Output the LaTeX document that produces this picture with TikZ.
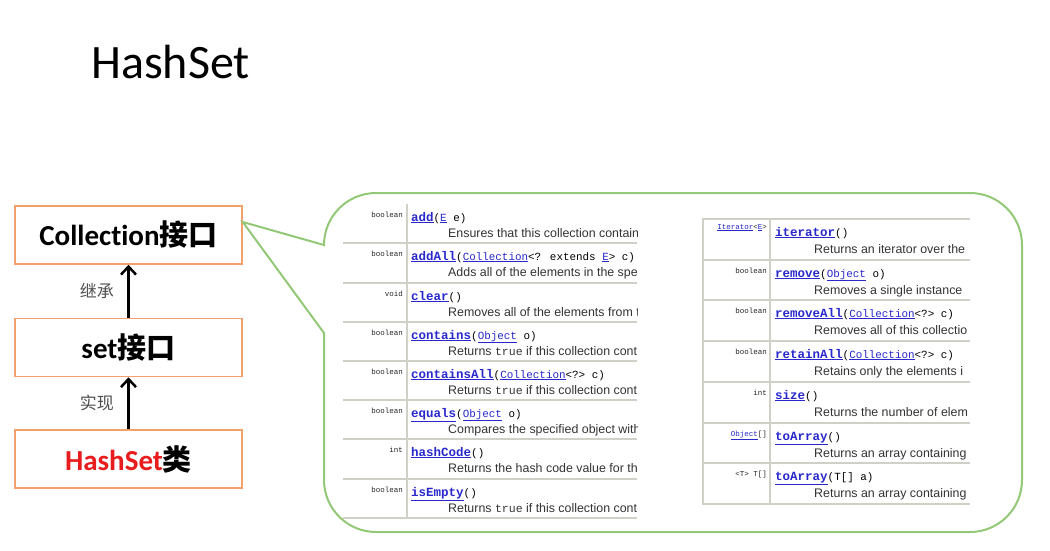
\documentclass[tikz,border=0pt]{standalone}
\usepackage{fontspec}
\setmainfont{Carlito}[Ligatures=NoCommon]
\newfontfamily\cjk{Noto Sans CJK SC}
\newfontfamily\apimono{Liberation Mono}
\newfontfamily\apisans{Liberation Sans}
\usepackage{tikz}
\usetikzlibrary{arrows.meta,positioning,calc}

\definecolor{boxorange}{RGB}{242,160,108}
\definecolor{callgreen}{RGB}{146,200,118}
\definecolor{linkblue}{RGB}{40,40,205}
\definecolor{gridgray}{RGB}{208,208,198}
\definecolor{hsred}{RGB}{232,28,28}
\definecolor{labelgray}{RGB}{80,80,80}

\newcommand\apiname[1]{{\bfseries\fontsize{12.5}{14}\selectfont\color{linkblue}\underline{#1}}}
\newcommand\apilink[1]{{\color{linkblue}\underline{#1}}}
\newcommand\apitrue{{\apimono\fontsize{11.5}{14}\selectfont true}}

\begin{document}
\begin{tikzpicture}[
  x=1pt, y=-1pt,
  umlbox/.style={rectangle, draw=boxorange, line width=1.5pt, fill=white,
    minimum width=227pt, minimum height=58pt,
    font=\bfseries\fontsize{29}{34}\selectfont},
  arr/.style={-{Straight Barb[length=8pt,width=15pt]}, line width=2.5pt},
  rel/.style={font=\cjk\fontsize{17}{20}\selectfont, text=labelgray},
  callout/.style={draw=callgreen, line width=2pt, fill=white},
  grid/.style={draw=gridgray, line width=2pt},
  ctype/.style={inner sep=0pt, anchor=base east,
    font=\apimono\fontsize{7.5}{9}\selectfont, text=black!85},
  cmeth/.style={inner sep=0pt, anchor=base west,
    font=\apimono\fontsize{10.9}{14}\selectfont},
  cdesc/.style={inner sep=0pt, anchor=base west,
    font=\apisans\fontsize{12.4}{15}\selectfont, text=black!80}
]
\useasboundingbox (0,0) rectangle (1050,550);

\node[font=\fontsize{48}{58}\selectfont, anchor=base west, inner sep=0pt] (title) at (91,78) {HashSet};

% hierarchy
\node[umlbox] (coll) at (128.5,235) {Collection{\cjk 接口}};
\node[umlbox, below=53pt of coll] (set) {set{\cjk 接口}};
\node[umlbox, below=52pt of set] (hset) {\textcolor{hsred}{HashSet}{\cjk 类}};

\draw[arr] (set) -- node[rel, left=10pt]{继承} (coll);
\draw[arr] (hset) -- node[rel, left=10pt]{实现} (set);

% callout
\coordinate (tip) at ([yshift=13pt]coll.east);
\draw[callout] (324,245) arc[start angle=180, end angle=270, radius=52]
  -- (970,193) arc[start angle=270, end angle=360, radius=52]
  -- (1022,480) arc[start angle=0, end angle=90, radius=52]
  -- (376,532) arc[start angle=90, end angle=180, radius=52]
  -- (324,333) -- (tip) -- cycle;

% left table
\draw[grid] (407,204) -- (407,518)
  (343,243) -- (637,243) (343,283) -- (637,283) (343,322) -- (637,322)
  (343,361) -- (637,361) (343,400) -- (637,400) (343,439) -- (637,439)
  (343,479) -- (637,479) (343,518) -- (637,518);
\begin{scope}
\clip (330,195) rectangle (637,525);
\node[ctype] (l1t) at (403,217) {boolean};
\node[cmeth] (l1m) at (411,221) {\apiname{add}(\apilink{E} e)};
\node[cdesc] (l1d) at (448,237) {Ensures that this collection contain};
\node[ctype] (l2t) at (403,256) {boolean};
\node[cmeth] (l2m) at (411,260) {\apiname{addAll}(\apilink{Collection}<? extends \apilink{E}> c)};
\node[cdesc] (l2d) at (448,276) {Adds all of the elements in the spe};
\node[ctype] (l3t) at (403,296) {void};
\node[cmeth] (l3m) at (411,300) {\apiname{clear}()};
\node[cdesc] (l3d) at (448,316) {Removes all of the elements from t};
\node[ctype] (l4t) at (403,335) {boolean};
\node[cmeth] (l4m) at (411,339) {\apiname{contains}(\apilink{Object} o)};
\node[cdesc] (l4d) at (448,355) {Returns \apitrue{} if this collection cont};
\node[ctype] (l5t) at (403,374) {boolean};
\node[cmeth] (l5m) at (411,378) {\apiname{containsAll}(\apilink{Collection}<?> c)};
\node[cdesc] (l5d) at (448,394) {Returns \apitrue{} if this collection cont};
\node[ctype] (l6t) at (403,413) {boolean};
\node[cmeth] (l6m) at (411,417) {\apiname{equals}(\apilink{Object} o)};
\node[cdesc] (l6d) at (448,433) {Compares the specified object with};
\node[ctype] (l7t) at (403,452) {int};
\node[cmeth] (l7m) at (411,456) {\apiname{hashCode}()};
\node[cdesc] (l7d) at (448,472) {Returns the hash code value for thi};
\node[ctype] (l8t) at (403,492) {boolean};
\node[cmeth] (l8m) at (411,496) {\apiname{isEmpty}()};
\node[cdesc] (l8d) at (448,512) {Returns \apitrue{} if this collection cont};
\end{scope}

% right table
\draw[grid] (970,219) -- (703,219) -- (703,504) -- (970,504)
  (770,219) -- (770,504)
  (703,260) -- (970,260) (703,300) -- (970,300) (703,341) -- (970,341)
  (703,382) -- (970,382) (703,423) -- (970,423) (703,463) -- (970,463);
\begin{scope}
\clip (700,210) rectangle (970,510);
\node[ctype] (r1t) at (767,229) {\apilink{Iterator}<\apilink{E}>};
\node[cmeth] (r1m) at (775,236) {\apiname{iterator}()};
\node[cdesc] (r1d) at (814,253) {Returns an iterator over the};
\node[ctype] (r2t) at (767,273) {boolean};
\node[cmeth] (r2m) at (775,277) {\apiname{remove}(\apilink{Object} o)};
\node[cdesc] (r2d) at (814,294) {Removes a single instance};
\node[ctype] (r3t) at (767,313) {boolean};
\node[cmeth] (r3m) at (775,317) {\apiname{removeAll}(\apilink{Collection}<?> c)};
\node[cdesc] (r3d) at (814,334) {Removes all of this collectio};
\node[ctype] (r4t) at (767,354) {boolean};
\node[cmeth] (r4m) at (775,358) {\apiname{retainAll}(\apilink{Collection}<?> c)};
\node[cdesc] (r4d) at (814,375) {Retains only the elements i};
\node[ctype] (r5t) at (767,395) {int};
\node[cmeth] (r5m) at (775,399) {\apiname{size}()};
\node[cdesc] (r5d) at (814,416) {Returns the number of elem};
\node[ctype] (r6t) at (767,436) {\apilink{Object}[]};
\node[cmeth] (r6m) at (775,440) {\apiname{toArray}()};
\node[cdesc] (r6d) at (814,457) {Returns an array containing};
\node[ctype] (r7t) at (767,476) {<T> T[]};
\node[cmeth] (r7m) at (775,480) {\apiname{toArray}(T[] a)};
\node[cdesc] (r7d) at (814,497) {Returns an array containing};
\end{scope}
\end{tikzpicture}
\end{document}
